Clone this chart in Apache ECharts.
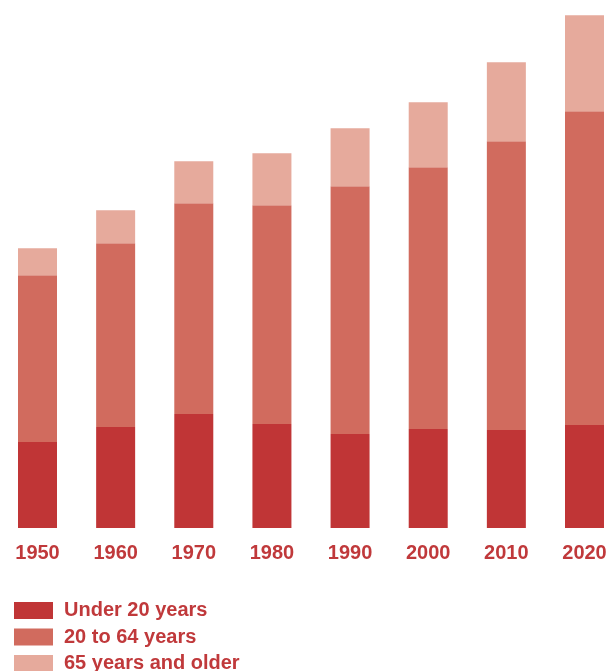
<!DOCTYPE html>
<html>
<head>
<meta charset="utf-8">
<script src="https://cdn.jsdelivr.net/npm/echarts@6/dist/echarts.min.js"></script>
<style>html,body{margin:0;padding:0;background:#fff}#c{width:615px;height:671px}</style>
</head>
<body>
<div id="c"></div>
<script>
const years = ['1950','1960','1970','1980','1990','2000','2010','2020'];
const under20 = [1449, 1702, 1921, 1752, 1584, 1668, 1651, 1736];
const age20to64 = [2814, 3100, 3555, 3690, 4179, 4415, 4870, 5291];
const age65plus = [455, 556, 708, 876, 977, 1095, 1331, 1618];
const seriesNames = ['Under 20 years', '20 to 64 years', '65 years and older'];
const colors = ['#C03536', '#D16B5E', '#E6AA9C'];
const textColor = '#C0393B';

const chart = echarts.init(document.getElementById('c'), null, {renderer: 'canvas'});
const mk = (name, data, color) => ({
  name, type: 'bar', stack: 'total', data, barWidth: 39,
  itemStyle: {color}, emphasis: {disabled: true}
});
const legendTops = [600.5, 627, 653.5];
const legends = seriesNames.map((n, i) => ({
  orient: 'vertical', left: 14, top: legendTops[i], padding: 0,
  itemWidth: 39, itemHeight: 17, icon: 'rect',
  textStyle: {color: textColor, fontFamily: 'Liberation Sans', fontWeight: 'bold', fontSize: 20, padding: [0,0,0,6]},
  data: [n]
}));
chart.setOption({
  animation: false,
  grid: {left: 37.5, right: 30.5, top: 6, bottom: 143, containLabel: false},
  xAxis: {
    type: 'category', data: years, boundaryGap: false,
    axisLine: {show: false}, axisTick: {show: false},
    axisLabel: {color: textColor, fontFamily: 'Liberation Sans', fontWeight: 'bold', fontSize: 20, margin: 15}
  },
  yAxis: {type: 'value', min: 0, max: 8800, show: false, splitLine: {show: false}},
  legend: legends,
  series: [
    mk(seriesNames[0], under20, colors[0]),
    mk(seriesNames[1], age20to64, colors[1]),
    mk(seriesNames[2], age65plus, colors[2])
  ]
});
</script>
</body>
</html>
